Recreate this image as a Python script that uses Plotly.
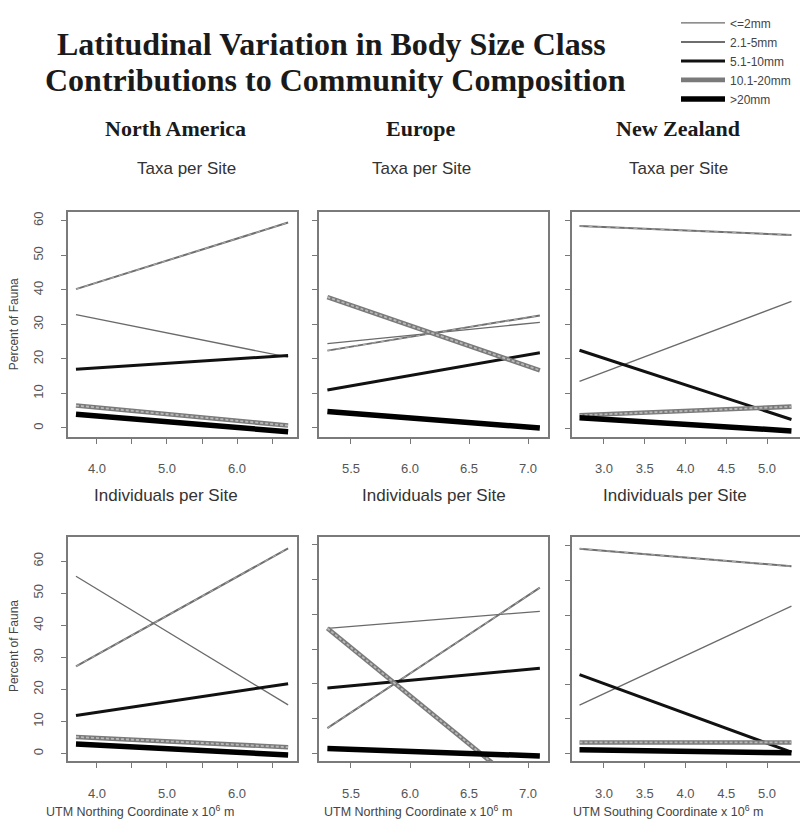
import plotly.graph_objects as go

# ---------------- data ----------------
classes = ["<=2mm", "2.1-5mm", "5.1-10mm", "10.1-20mm", ">20mm"]

regions = ["North America", "Europe", "New Zealand"]
coord_labels = ["UTM Northing Coordinate x 10<sup>6</sup> m",
                "UTM Northing Coordinate x 10<sup>6</sup> m",
                "UTM Southing Coordinate x 10<sup>6</sup> m"]

# x extent of the fitted lines (UTM coordinate x 10^6 m)
na_x = [3.70, 6.73]
eu_x = [5.30, 7.10]
nz_x = [2.70, 5.30]

# Taxa per Site: [start, end] percent for each size class
na_taxa_le2 = [32.8, 20.5]
na_taxa_2_5 = [40.2, 59.5]
na_taxa_5_10 = [17.0, 21.0]
na_taxa_10_20 = [6.5, 0.7]
na_taxa_gt20 = [4.0, -1.1]

eu_taxa_le2 = [24.4, 30.6]
eu_taxa_2_5 = [22.4, 32.6]
eu_taxa_5_10 = [11.0, 21.8]
eu_taxa_10_20 = [37.9, 16.7]
eu_taxa_gt20 = [4.8, 0.0]

nz_taxa_le2 = [13.5, 36.6]
nz_taxa_2_5 = [58.4, 55.8]
nz_taxa_5_10 = [22.5, 2.5]
nz_taxa_10_20 = [3.7, 6.2]
nz_taxa_gt20 = [3.0, -0.8]

# Individuals per Site
na_ind_le2 = [55.3, 15.2]
na_ind_2_5 = [27.2, 64.0]
na_ind_5_10 = [11.9, 21.8]
na_ind_10_20 = [5.2, 2.0]
na_ind_gt20 = [3.0, -0.4]

eu_ind_le2 = [36.0, 40.9]
eu_ind_2_5 = [7.3, 47.7]
eu_ind_5_10 = [18.8, 24.5]
eu_ind_10_20 = [36.0, -13.9]
eu_ind_gt20 = [1.4, -0.7]

nz_ind_le2 = [14.0, 42.6]
nz_ind_2_5 = [59.2, 54.1]
nz_ind_5_10 = [22.8, 0.4]
nz_ind_10_20 = [3.2, 3.2]
nz_ind_gt20 = [1.1, 0.2]

y_ticks = [0, 10, 20, 30, 40, 50, 60]
na_xticks = [4.0, 4.5, 5.0, 5.5, 6.0, 6.5]
na_xticklabels = ["4.0", "", "5.0", "", "6.0", ""]
eu_xticks = [5.5, 6.0, 6.5, 7.0]
eu_xticklabels = ["5.5", "6.0", "6.5", "7.0"]
nz_xticks = [3.0, 3.5, 4.0, 4.5, 5.0]
nz_xticklabels = ["3.0", "3.5", "4.0", "4.5", "5.0"]

# ---------------- assembly ----------------
panels = [
    (na_x, [na_taxa_le2, na_taxa_2_5, na_taxa_5_10, na_taxa_10_20, na_taxa_gt20]),
    (eu_x, [eu_taxa_le2, eu_taxa_2_5, eu_taxa_5_10, eu_taxa_10_20, eu_taxa_gt20]),
    (nz_x, [nz_taxa_le2, nz_taxa_2_5, nz_taxa_5_10, nz_taxa_10_20, nz_taxa_gt20]),
    (na_x, [na_ind_le2, na_ind_2_5, na_ind_5_10, na_ind_10_20, na_ind_gt20]),
    (eu_x, [eu_ind_le2, eu_ind_2_5, eu_ind_5_10, eu_ind_10_20, eu_ind_gt20]),
    (nz_x, [nz_ind_le2, nz_ind_2_5, nz_ind_5_10, nz_ind_10_20, nz_ind_gt20]),
]

OFF = 8  # page body margin of the browser
W, H = 808 - OFF, 827 - OFF


def px(x):
    return (x - OFF) / W


def py(y):
    return 1 - (y - OFF) / H


col_px = [(68, 297), (319, 548), (572, 801)]
row_px = [(198, 428), (530, 760)]
x_ranges = [[3.586, 6.857], [5.229, 7.169], [2.608, 5.417]]
y_ranges = [[[-2.55, 62.6], [-2.55, 62.6], [-2.5, 62.5]],
            [[-2.45, 67.7], [-2.3, 62.4], [-2.3, 62.7]]]
xtick_sets = [(na_xticks, na_xticklabels), (eu_xticks, eu_xticklabels),
              (nz_xticks, nz_xticklabels)]

styles = {
    "<=2mm": [("#6a6a6a", 1.3, "solid")],
    "2.1-5mm": [("#6e6e6e", 2.0, "solid"), ("#bdbdbd", 0.8, "4px,5px")],
    "5.1-10mm": [("#111111", 3.0, "solid")],
    "10.1-20mm": [("#7a7a7a", 4.6, "solid"), ("#b8b8b8", 1.8, "3px,2px")],
    ">20mm": [("#000000", 5.5, "solid")],
}

fig = go.Figure()
layout = {}
axis_font = dict(family="Liberation Sans, Arial, sans-serif", size=13, color="#555555")

for idx, (xs, series) in enumerate(panels):
    r, c = divmod(idx, 3)
    n = idx + 1
    xa = "x" if n == 1 else f"x{n}"
    ya = "y" if n == 1 else f"y{n}"
    x0, x1 = col_px[c]
    y0, y1 = row_px[r]
    xt, xl = xtick_sets[c]
    layout["xaxis" if n == 1 else f"xaxis{n}"] = dict(
        domain=[px(x0), px(x1)], anchor=ya, range=x_ranges[c],
        tickvals=xt, ticktext=xl, ticks="outside", ticklen=5, tickwidth=1,
        tickcolor="#777777", showline=True, mirror=True, linecolor="#7a7a7a",
        linewidth=1.5, showgrid=False, zeroline=False, tickfont=axis_font,
        ticklabelstandoff=14, fixedrange=True)
    layout["yaxis" if n == 1 else f"yaxis{n}"] = dict(
        domain=[py(y1), py(y0)], anchor=xa, range=y_ranges[r][c],
        tickvals=y_ticks, ticktext=[str(v) for v in y_ticks] if c == 0 else [""] * 7,
        ticks="outside", ticklen=5, tickwidth=1, tickcolor="#777777",
        showline=True, mirror=True, linecolor="#7a7a7a", linewidth=1.5,
        showgrid=False, zeroline=False, tickfont=axis_font, tickangle=-90,
        ticklabelstandoff=13, fixedrange=True)
    for cls, vals in zip(classes, series):
        for li, (col, wd, dash) in enumerate(styles[cls]):
            fig.add_trace(go.Scatter(
                x=xs, y=vals, mode="lines", xaxis=xa, yaxis=ya,
                line=dict(color=col, width=wd, dash=dash),
                name=cls, legendgroup=cls,
                showlegend=(idx == 0 and li == 0), hoverinfo="skip"))

annots = []
serif = "Liberation Serif, Times New Roman, serif"
sans = "Liberation Sans, Arial, sans-serif"


def add_text(text, x, y, size, family, color="#000000", bold=False, angle=0):
    t = f"<b>{text}</b>" if bold else text
    annots.append(dict(text=t, x=px(x), y=py(y), xref="paper", yref="paper",
                       showarrow=False, xanchor="center", yanchor="middle",
                       textangle=angle,
                       font=dict(family=family, size=size, color=color)))


add_text("Latitudinal Variation in Body Size Class", 331, 26, 32, serif, "#1a1a1a", True)
add_text("Contributions to Community Composition", 335, 63, 32, serif, "#1a1a1a", True)
for name, cx in zip(regions, [175, 421, 678]):
    add_text(name, cx, 113, 22, serif, "#1a1a1a", True)
for cx in [186, 421, 678]:
    add_text("Taxa per Site", cx, 154, 17, sans, "#333333")
for cx in [166, 434, 675]:
    add_text("Individuals per Site", cx, 488, 17, sans, "#333333")
for lab, cx in zip(coord_labels, [140, 418, 668]):
    add_text(lab, cx, 811, 12.5, sans, "#444444")
for cy in [313, 642]:
    add_text("Percent of Fauna", 14, cy, 12, sans, "#444444", angle=-90)

fig.update_layout(
    width=W, height=H, margin=dict(l=0, r=0, t=0, b=0),
    paper_bgcolor="white", plot_bgcolor="white",
    annotations=annots,
    legend=dict(x=px(676), y=py(-10), xanchor="left", yanchor="top",
                font=dict(family=sans, size=12, color="#444444"),
                bgcolor="rgba(0,0,0,0)", tracegroupgap=0, itemwidth=44),
    **layout)

fig.write_html("out.html")
